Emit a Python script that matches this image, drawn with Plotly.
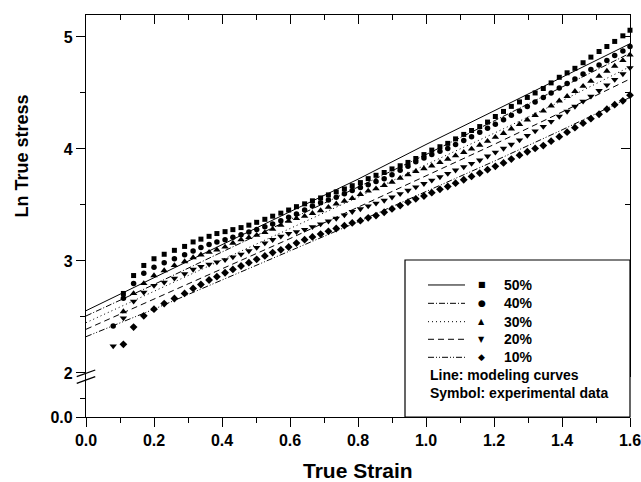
import plotly.graph_objects as go

# ---------------- data ----------------
strain = [0.08, 0.11, 0.14, 0.17, 0.20, 0.23, 0.26, 0.29,
          0.315, 0.338, 0.362, 0.385, 0.409, 0.432, 0.456, 0.479, 0.502, 0.526,
          0.549, 0.573, 0.596, 0.619, 0.643, 0.666, 0.690, 0.713, 0.736, 0.760,
          0.783, 0.807, 0.830, 0.853, 0.877, 0.900, 0.924, 0.947, 0.970, 0.994,
          1.017, 1.041, 1.064, 1.087, 1.111, 1.134, 1.158, 1.181, 1.204, 1.228,
          1.251, 1.275, 1.298, 1.321, 1.345, 1.368, 1.392, 1.415, 1.438, 1.462,
          1.485, 1.509, 1.532, 1.555, 1.579, 1.600]

exp_50 = [None, 2.71, 2.87, 2.96, 3.02, 3.06, 3.095, 3.13,
          3.17, 3.195, 3.22, 3.245, 3.262, 3.28, 3.298, 3.32, 3.345, 3.372,
          3.40, 3.427, 3.455, 3.485, 3.51, 3.537, 3.563, 3.59, 3.617, 3.643,
          3.672, 3.70, 3.735, 3.765, 3.79, 3.822, 3.85, 3.88, 3.915, 3.95,
          3.99, 4.02, 4.05, 4.09, 4.13, 4.165, 4.20, 4.24, 4.29, 4.335,
          4.38, 4.42, 4.46, 4.50, 4.54, 4.59, 4.64, 4.68, 4.72, 4.77,
          4.82, 4.87, 4.915, 4.96, 5.01, 5.06]

exp_40 = [2.42, 2.667, 2.80, 2.89, 2.944, 2.985, 3.02, 3.055,
          3.09, 3.12, 3.148, 3.17, 3.19, 3.212, 3.235, 3.258, 3.28, 3.305,
          3.33, 3.36, 3.39, 3.42, 3.455, 3.49, 3.52, 3.545, 3.57, 3.60,
          3.63, 3.655, 3.68, 3.71, 3.735, 3.77, 3.81, 3.845, 3.885, 3.92,
          3.95, 3.98, 4.005, 4.04, 4.075, 4.11, 4.15, 4.185, 4.22, 4.26,
          4.30, 4.34, 4.38, 4.42, 4.46, 4.50, 4.545, 4.585, 4.625, 4.67,
          4.71, 4.75, 4.79, 4.835, 4.875, 4.915]

exp_30 = [None, 2.548, 2.71, 2.80, 2.87, 2.915, 2.96, 2.995,
          3.03, 3.055, 3.078, 3.10, 3.125, 3.16, 3.19, 3.21, 3.23, 3.255,
          3.285, 3.32, 3.355, 3.38, 3.40, 3.425, 3.45, 3.48, 3.51, 3.535,
          3.56, 3.595, 3.625, 3.645, 3.675, 3.705, 3.74, 3.77, 3.80, 3.825,
          3.85, 3.88, 3.91, 3.94, 3.97, 4.00, 4.035, 4.07, 4.105, 4.14,
          4.18, 4.22, 4.26, 4.30, 4.34, 4.385, 4.43, 4.47, 4.515, 4.56,
          4.605, 4.65, 4.695, 4.74, 4.79, 4.84]

exp_20 = [2.24, 2.49, 2.64, 2.72, 2.78, 2.81, 2.845, 2.885,
          2.925, 2.95, 2.97, 2.99, 3.01, 3.035, 3.06, 3.09, 3.12, 3.16,
          3.19, 3.22, 3.245, 3.26, 3.28, 3.305, 3.33, 3.355, 3.38, 3.41,
          3.44, 3.465, 3.49, 3.515, 3.54, 3.57, 3.60, 3.63, 3.66, 3.69,
          3.72, 3.75, 3.78, 3.81, 3.84, 3.87, 3.90, 3.935, 3.97, 4.005,
          4.04, 4.08, 4.12, 4.16, 4.20, 4.245, 4.29, 4.335, 4.38, 4.425,
          4.47, 4.52, 4.57, 4.62, 4.67, 4.725]

exp_10 = [None, 2.256, 2.41, 2.51, 2.57, 2.62, 2.665, 2.71,
          2.755, 2.79, 2.83, 2.86, 2.895, 2.925, 2.955, 2.985, 3.015, 3.045,
          3.075, 3.10, 3.125, 3.16, 3.19, 3.215, 3.24, 3.265, 3.29, 3.315,
          3.34, 3.36, 3.385, 3.405, 3.435, 3.465, 3.495, 3.525, 3.555, 3.58,
          3.61, 3.64, 3.665, 3.695, 3.725, 3.755, 3.785, 3.815, 3.845, 3.875,
          3.91, 3.945, 3.975, 4.005, 4.03, 4.07, 4.11, 4.15, 4.19, 4.23,
          4.27, 4.31, 4.355, 4.395, 4.43, 4.48]

model_x = [0.0, 0.2, 0.4, 0.6, 0.8, 1.0, 1.2, 1.4, 1.6]
model_50 = [2.556, 2.85, 3.15, 3.44, 3.73, 4.04, 4.34, 4.64, 4.94]
model_40 = [2.509, 2.79, 3.08, 3.37, 3.66, 3.95, 4.25, 4.55, 4.855]
model_30 = [2.449, 2.73, 3.01, 3.29, 3.57, 3.86, 4.14, 4.43, 4.735]
model_20 = [2.39, 2.66, 2.93, 3.20, 3.48, 3.76, 4.04, 4.33, 4.625]
model_10 = [2.324, 2.57, 2.83, 3.09, 3.35, 3.62, 3.89, 4.17, 4.46]

labels = ["50%", "40%", "30%", "20%", "10%"]
x_ticks = [0.0, 0.2, 0.4, 0.6, 0.8, 1.0, 1.2, 1.4, 1.6]
x_ticktext = ["0.0", "0.2", "0.4", "0.6", "0.8", "1.0", "1.2", "1.4", "1.6"]
y_ticks = [2, 3, 4, 5]
y_ticktext = ["2", "3", "4", "5"]

# ---------------- styles ----------------
FONT = "Liberation Sans, Arial, sans-serif"
exp_series = [exp_50, exp_40, exp_30, exp_20, exp_10]
model_series = [model_50, model_40, model_30, model_20, model_10]
symbols = ["square", "circle", "triangle-up", "triangle-down", "diamond"]
msizes = [5, 5.5, 6.5, 6.5, 6]
dashes = ["solid", "6px,2px,1px,2px", "1px,3px", "6px,4px", "6px,2px,1px,2px,1px,2px"]
glyphs = ["\u25A0", "\u25CF", "\u25B2", "\u25BC", "\u25C6"]
gsizes = [8, 9, 8, 8, 9]

fig = go.Figure()

for vals, dsh in zip(model_series, dashes):
    fig.add_trace(go.Scatter(x=model_x, y=vals, mode="lines", xaxis="x", yaxis="y2",
                             line=dict(color="black", width=1, dash=dsh),
                             showlegend=False, hoverinfo="skip"))

for vals, sym, ms in zip(exp_series, symbols, msizes):
    fig.add_trace(go.Scatter(x=strain, y=vals, mode="markers", xaxis="x", yaxis="y2",
                             marker=dict(symbol=sym, size=ms, color="black", line=dict(width=0)),
                             cliponaxis=False, showlegend=False))

# empty traces so that the auxiliary axes are drawn
fig.add_trace(go.Scatter(x=[], y=[], xaxis="x", yaxis="y", showlegend=False))
fig.add_trace(go.Scatter(x=[], y=[], xaxis="x2", yaxis="y3", showlegend=False))

tickfont = dict(family=FONT, size=16, color="black", weight="bold")
LINEW = 1.3

fig.update_layout(
    width=641, height=482,
    margin=dict(l=86, r=11, t=15, b=65, autoexpand=False),
    paper_bgcolor="white", plot_bgcolor="white",
    showlegend=False,
    xaxis=dict(domain=[0, 1], range=[0, 1.6], anchor="y",
               tickvals=x_ticks, ticktext=x_ticktext, ticks="outside", ticklen=9,
               tickwidth=LINEW, tickcolor="black", ticklabeloverflow="allow",
               minor=dict(dtick=0.1, tick0=0, ticks="outside", ticklen=5, tickwidth=LINEW, tickcolor="black"),
               showline=True, linecolor="black", linewidth=LINEW, showgrid=False, zeroline=False,
               tickfont=tickfont),
    xaxis2=dict(overlaying="x", side="top", anchor="y2", range=[0, 1.6],
                tickvals=x_ticks, ticks="inside", ticklen=9, tickwidth=LINEW, tickcolor="black",
                minor=dict(dtick=0.1, tick0=0, ticks="inside", ticklen=5, tickwidth=LINEW, tickcolor="black"),
                showticklabels=False, showline=True, linecolor="black", linewidth=LINEW,
                showgrid=False, zeroline=False),
    yaxis=dict(domain=[0, 0.1], range=[0, 1.1], anchor="x",
               tickvals=[0], ticktext=["0.0"], ticks="outside", ticklen=9, tickwidth=LINEW,
               tickcolor="black",
               minor=dict(tickvals=[0.5], ticks="outside", ticklen=5, tickwidth=LINEW, tickcolor="black"),
               showline=True, linecolor="black", linewidth=LINEW, showgrid=False, zeroline=False,
               tickfont=tickfont),
    yaxis2=dict(domain=[0.1, 1], range=[1.966, 5.196], anchor="x",
                tickvals=y_ticks, ticktext=y_ticktext, ticks="outside", ticklen=9, tickwidth=LINEW,
                tickcolor="black",
                minor=dict(dtick=0.5, tick0=0, ticks="outside", ticklen=5, tickwidth=LINEW, tickcolor="black"),
                showline=True, linecolor="black", linewidth=LINEW, showgrid=False, zeroline=False,
                tickfont=tickfont),
    yaxis3=dict(overlaying="y2", side="right", anchor="x2", range=[1.966, 5.196],
                tickvals=y_ticks, ticks="inside", ticklen=9, tickwidth=LINEW, tickcolor="black",
                minor=dict(dtick=0.5, tick0=0, ticks="inside", ticklen=5, tickwidth=LINEW, tickcolor="black"),
                showticklabels=False, showline=True, linecolor="black", linewidth=LINEW,
                showgrid=False, zeroline=False),
)

shapes = []
# axis break marks
shapes.append(dict(type="line", xref="paper", yref="paper", x0=-0.017, y0=0.1002, x1=0.017, y1=0.1169,
                   line=dict(color="black", width=1.3)))
shapes.append(dict(type="line", xref="paper", yref="paper", x0=-0.017, y0=0.0838, x1=0.017, y1=0.1005,
                   line=dict(color="black", width=1.3)))
# legend box
shapes.append(dict(type="rect", xref="paper", yref="paper", x0=0.5864, y0=0, x1=1.0, y1=0.3905,
                   line=dict(color="black", width=1.2), fillcolor="white", layer="above"))

row_y = [0.3284, 0.2828, 0.2371, 0.1933, 0.1485]
annotations = []
for ry, dsh, g, gs, lab in zip(row_y, dashes, glyphs, gsizes, labels):
    shapes.append(dict(type="line", xref="paper", yref="paper", x0=0.6287, x1=0.6967, y0=ry, y1=ry,
                       line=dict(color="black", width=1, dash=dsh), layer="above"))
    annotations.append(dict(xref="paper", yref="paper", x=0.7274, y=ry, text=g, showarrow=False,
                            xanchor="center", yanchor="middle",
                            font=dict(family="DejaVu Sans", size=gs, color="black")))
    annotations.append(dict(xref="paper", yref="paper", x=0.7642, y=ry, text=lab, showarrow=False,
                            xanchor="left", yanchor="middle",
                            font=dict(family=FONT, size=14, color="black", weight="bold")))

annotations.append(dict(xref="paper", yref="paper", x=0.6287, y=0.1045, text="Line: modeling curves",
                        showarrow=False, xanchor="left", yanchor="middle",
                        font=dict(family=FONT, size=14, color="black", weight="bold")))
annotations.append(dict(xref="paper", yref="paper", x=0.6287, y=0.0604, text="Symbol: experimental data",
                        showarrow=False, xanchor="left", yanchor="middle",
                        font=dict(family=FONT, size=14, color="black", weight="bold")))

# axis titles
annotations.append(dict(xref="paper", yref="paper", x=0.5, y=-0.134, text="True Strain",
                        showarrow=False, xanchor="center", yanchor="middle",
                        font=dict(family=FONT, size=21, color="black", weight="bold")))
annotations.append(dict(xref="paper", yref="paper", x=-0.118, y=0.65, text="Ln True stress",
                        showarrow=False, xanchor="center", yanchor="middle", textangle=-90,
                        font=dict(family=FONT, size=18, color="black", weight="bold")))

fig.update_layout(shapes=shapes, annotations=annotations)

# remove the default 8px page margin so the figure fills the window exactly
fig.write_html("out.html", config={"displayModeBar": False},
               post_script="document.body.style.margin='0px';")
